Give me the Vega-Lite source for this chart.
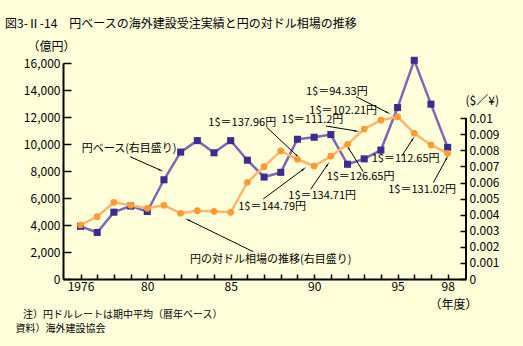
{
  "$schema": "https://vega.github.io/schema/vega-lite/v6.json",
  "width": 403,
  "height": 216,
  "autosize": "none",
  "padding": {"left": 63, "top": 63, "right": 57, "bottom": 67},
  "background": "#FFFFD9",
  "title": {
    "text": "図3-Ⅱ-14　円ベースの海外建設受注実績と円の対ドル相場の推移",
    "anchor": "start",
    "frame": "group",
    "dx": -58,
    "offset": 9,
    "font": "Noto Sans CJK JP",
    "fontSize": 12,
    "fontWeight": "normal",
    "color": "black"
  },
  "config": {
    "view": {"stroke": null},
    "axis": {
      "zindex": 1,
      "grid": false,
      "domainColor": "black",
      "domainWidth": 2,
      "tickColor": "black",
      "tickWidth": 1.5,
      "labelColor": "black",
      "labelFont": "Noto Sans CJK JP",
      "labelFontSize": 12,
      "titleFont": "Noto Sans CJK JP",
      "titleFontSize": 12,
      "titleFontWeight": "normal",
      "titleColor": "black"
    },
    "text": {"font": "Noto Sans CJK JP", "fontSize": 11, "color": "black"}
  },
  "datasets": {
    "orders": [
      {"year": 1976, "value": 3900}, {"year": 1977, "value": 3450}, {"year": 1978, "value": 4950},
      {"year": 1979, "value": 5400}, {"year": 1980, "value": 5000}, {"year": 1981, "value": 7350},
      {"year": 1982, "value": 9400}, {"year": 1983, "value": 10250}, {"year": 1984, "value": 9350},
      {"year": 1985, "value": 10250}, {"year": 1986, "value": 8800}, {"year": 1987, "value": 7550},
      {"year": 1988, "value": 7900}, {"year": 1989, "value": 10350}, {"year": 1990, "value": 10500},
      {"year": 1991, "value": 10700}, {"year": 1992, "value": 8500}, {"year": 1993, "value": 8900},
      {"year": 1994, "value": 9550}, {"year": 1995, "value": 12700}, {"year": 1996, "value": 16200},
      {"year": 1997, "value": 12950}, {"year": 1998, "value": 9750}
    ],
    "rate": [
      {"year": 1976, "rate": 0.00336}, {"year": 1977, "rate": 0.00388}, {"year": 1978, "rate": 0.00477},
      {"year": 1979, "rate": 0.00459}, {"year": 1980, "rate": 0.0044}, {"year": 1981, "rate": 0.00459},
      {"year": 1982, "rate": 0.00409}, {"year": 1983, "rate": 0.00425}, {"year": 1984, "rate": 0.00421},
      {"year": 1985, "rate": 0.00415}, {"year": 1986, "rate": 0.00602}, {"year": 1987, "rate": 0.00699},
      {"year": 1988, "rate": 0.00797}, {"year": 1989, "rate": 0.00745}, {"year": 1990, "rate": 0.00703},
      {"year": 1991, "rate": 0.00764}, {"year": 1992, "rate": 0.00838}, {"year": 1993, "rate": 0.00933},
      {"year": 1994, "rate": 0.00988}, {"year": 1995, "rate": 0.0101}, {"year": 1996, "rate": 0.00907},
      {"year": 1997, "rate": 0.00834}, {"year": 1998, "rate": 0.00782}
    ],
    "labels": [
      {"label": "円ベース(右目盛り)", "year": 1976.07, "value": 9607},
      {"label": "円の対ドル相場の推移(右目盛り)", "year": 1982.56, "value": 1407},
      {"label": "1$＝137.96円", "year": 1983.66, "value": 11578},
      {"label": "1$＝144.79円", "year": 1985.45, "value": 5356},
      {"label": "1$＝134.71円", "year": 1988.45, "value": 6170},
      {"label": "1$＝126.65円", "year": 1990.75, "value": 7533},
      {"label": "1$＝111.2円", "year": 1988.05, "value": 11778},
      {"label": "1$＝102.21円", "year": 1989.71, "value": 12444},
      {"label": "1$＝94.33円", "year": 1989.51, "value": 13874},
      {"label": "1$＝112.65円", "year": 1993.45, "value": 8867},
      {"label": "1$＝131.02円", "year": 1994.44, "value": 6593}
    ],
    "arrows": [
      {"year": 1980.77, "value": 8074, "tail_year": 1978.97, "tail_value": 9059, "angle": 114},
      {"year": 1982.46, "value": 4370, "tail_year": 1986.35, "tail_value": 2022, "angle": 296},
      {"year": 1988.99, "value": 9111, "tail_year": 1987.16, "tail_value": 11237, "angle": 133},
      {"year": 1989.35, "value": 8126, "tail_year": 1986.95, "tail_value": 5926, "angle": 53},
      {"year": 1990.79, "value": 8444, "tail_year": 1989.79, "tail_value": 6644, "angle": 34},
      {"year": 1992.07, "value": 9681, "tail_year": 1992.94, "tail_value": 7948, "angle": 328},
      {"year": 1992.51, "value": 10963, "tail_year": 1990.71, "tail_value": 11333, "angle": 100},
      {"year": 1994.41, "value": 12319, "tail_year": 1992.51, "tail_value": 13504, "angle": 117},
      {"year": 1995.9, "value": 10348, "tail_year": 1995.25, "tail_value": 9111, "angle": 33},
      {"year": 1997.94, "value": 8941, "tail_year": 1997.14, "tail_value": 7133, "angle": 29}
    ],
    "notes": [
      {"label": "注）円ドルレートは期中平均（暦年ベース）", "year": 1972.56, "value": -2667},
      {"label": "資料）海外建設協会", "year": 1972.11, "value": -3670}
    ]
  },
  "encoding": {
    "x": {
      "field": "year", "type": "quantitative",
      "scale": {"domain": [1974.95, 1999.1], "nice": false, "zero": false},
      "axis": {
        "values": [1976, 1977, 1978, 1979, 1980, 1981, 1982, 1983, 1984, 1985, 1986, 1987, 1988, 1989, 1990, 1991, 1992, 1993, 1994, 1995, 1996, 1997, 1998],
        "labelExpr": "datum.value == 1976 ? '1976' : (datum.value == 1980 || datum.value == 1985 || datum.value == 1990 || datum.value == 1995 || datum.value == 1998) ? format(datum.value - 1900, 'd') : ''",
        "orient": "bottom",
        "tickSize": -5,
        "labelPadding": 7,
        "labelFlush": false,
        "labelOverlap": false,
        "title": "（年度）",
        "titleAngle": 0,
        "titleAlign": "left",
        "titleBaseline": "middle",
        "titleX": 366,
        "titleY": 25
      }
    }
  },
  "layer": [
    {
      "data": {"name": "orders"},
      "mark": {"type": "line", "color": "#7B68B8", "strokeWidth": 2.5},
      "encoding": {
        "y": {
          "field": "value", "type": "quantitative",
          "scale": {"domain": [0, 16000], "nice": false, "zero": false},
          "axis": {
            "orient": "left",
            "values": [0, 2000, 4000, 6000, 8000, 10000, 12000, 14000, 16000],
            "labelExpr": "format(datum.value, ',d')",
            "tickSize": -8,
            "labelPadding": 11,
            "title": "（億円）",
            "titleAngle": 0,
            "titleAlign": "left",
            "titleBaseline": "middle",
            "titleX": -36,
            "titleY": -17
          }
        }
      }
    },
    {
      "data": {"name": "orders"},
      "mark": {"type": "point", "shape": "square", "filled": true, "size": 50, "color": "#3E2B8E", "opacity": 1},
      "encoding": {
        "y": {"field": "value", "type": "quantitative", "scale": {"domain": [0, 16000], "nice": false, "zero": false}, "axis": null}
      }
    },
    {
      "data": {"name": "arrows"},
      "mark": {"type": "rule", "color": "black", "strokeWidth": 1},
      "encoding": {
        "y": {"field": "value", "type": "quantitative", "scale": {"domain": [0, 16000], "nice": false, "zero": false}, "axis": null},
        "x2": {"field": "tail_year"},
        "y2": {"field": "tail_value"}
      }
    },
    {
      "data": {"name": "arrows"},
      "mark": {"type": "point", "shape": "wedge", "filled": true, "size": 40, "color": "black", "opacity": 1},
      "encoding": {
        "y": {"field": "value", "type": "quantitative", "scale": {"domain": [0, 16000], "nice": false, "zero": false}, "axis": null},
        "angle": {"field": "angle", "type": "quantitative", "scale": null}
      }
    },
    {
      "data": {"name": "labels"},
      "mark": {"type": "text", "align": "left", "baseline": "middle"},
      "encoding": {
        "y": {"field": "value", "type": "quantitative", "scale": {"domain": [0, 16000], "nice": false, "zero": false}, "axis": null},
        "text": {"field": "label"}
      }
    },
    {
      "data": {"name": "notes"},
      "mark": {"type": "text", "align": "left", "baseline": "middle", "fontSize": 10},
      "encoding": {
        "y": {"field": "value", "type": "quantitative", "scale": {"domain": [0, 16000], "nice": false, "zero": false}, "axis": null},
        "text": {"field": "label"}
      }
    },
    {
      "data": {"name": "rate"},
      "mark": {"type": "line", "color": "#FFB66B", "strokeWidth": 2.5},
      "encoding": {
        "y": {
          "field": "rate", "type": "quantitative",
          "scale": {"domain": [0, 0.01344], "nice": false, "zero": false},
          "axis": {
            "orient": "right",
            "values": [0, 0.001, 0.002, 0.003, 0.004, 0.005, 0.006, 0.007, 0.008, 0.009, 0.01],
            "format": ".3~f",
            "domain": false,
            "tickSize": -6,
            "labelPadding": 9,
            "title": "($／¥)",
            "titleAngle": 0,
            "titleAlign": "left",
            "titleBaseline": "middle",
            "titleX": -1,
            "titleY": 37
          }
        }
      }
    },
    {
      "data": {"name": "rate"},
      "mark": {"type": "point", "shape": "circle", "filled": true, "size": 45, "color": "#FF9A30", "opacity": 1},
      "encoding": {
        "y": {"field": "rate", "type": "quantitative", "scale": {"domain": [0, 0.01344], "nice": false, "zero": false}, "axis": null}
      }
    },
    {
      "data": {"values": [{"edge": "right axis"}]},
      "mark": {"type": "rule", "color": "black", "strokeWidth": 2},
      "encoding": {
        "x": {"value": {"expr": "width"}},
        "y": {"datum": 0, "type": "quantitative", "scale": {"domain": [0, 0.01344], "nice": false, "zero": false}, "axis": null},
        "y2": {"datum": 0.01}
      }
    }
  ],
  "resolve": {"scale": {"y": "independent"}, "axis": {"y": "independent"}}
}
